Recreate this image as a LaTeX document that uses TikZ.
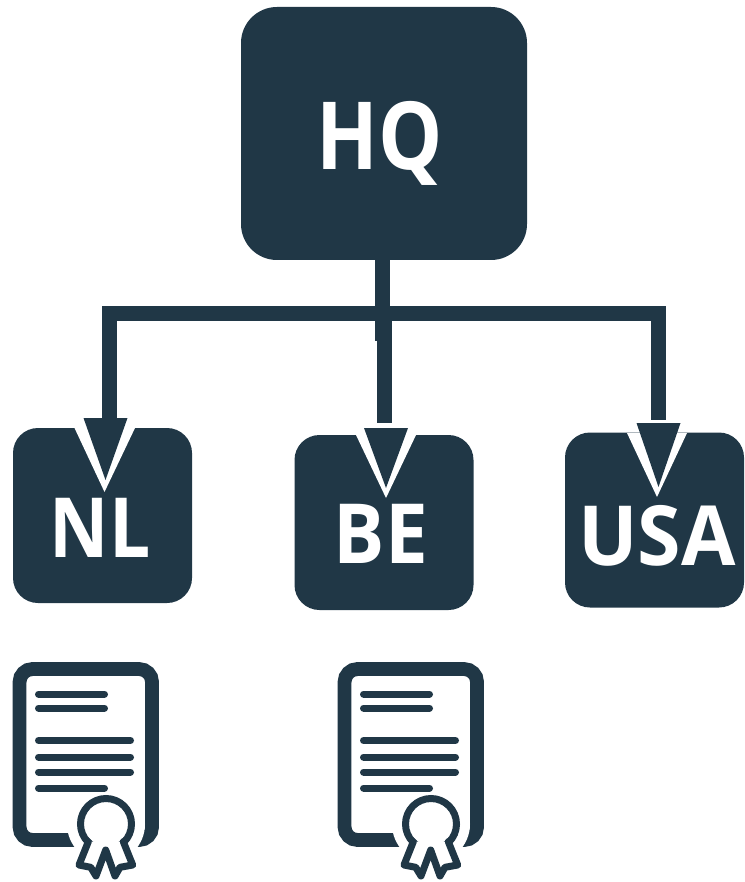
\documentclass[tikz,border=0pt]{standalone}
\usepackage{fontspec}
\setmainfont{Open Sans}
\usetikzlibrary{arrows.meta}
\definecolor{navy}{HTML}{203746}
\tikzset{
  office/.style={draw=none,fill=navy,rounded corners=25pt,inner sep=0pt,minimum width=179pt,minimum height=175pt},
  hqbox/.style={office,rounded corners=36pt,minimum width=286pt,minimum height=253pt},
  lbl/.style={text=white,inner sep=0pt,anchor=base,transform shape,font=\bfseries\fontsize{83}{83}\selectfont},
  shaft/.style={draw=navy,line width=15pt},
  head/.style={draw=navy,line width=0.1pt,-{Triangle[length=#1,width=44pt,line width=0pt,fill=navy]}},
  halo/.style={fill=white,draw=none},
  inkline/.style={draw=navy,line width=7pt,line cap=round},
}
\newcommand{\certificate}[2]{%
  \begin{scope}[shift={(#1,0)}]
    \node[draw=navy,line width=13.8pt,rounded corners=13pt,inner sep=0pt,minimum width=132.5pt,minimum height=171pt] (frame#2) at (85.8,754.5) {};
    \node[circle,fill=white,inner sep=0pt,minimum size=78pt] (gap#2) at (106,824) {};
    \draw[inkline] (38.5,694) -- (104.5,694);
    \draw[inkline] (38.5,708) -- (104.5,708);
    \draw[inkline] (38.5,740.5) -- (130.5,740.5);
    \draw[inkline] (38.5,757) -- (130.5,757);
    \draw[inkline] (38.5,772) -- (130.5,772);
    \draw[inkline] (38.5,788) -- (104.5,788);
    \node[circle,draw=navy,fill=white,line width=7pt,inner sep=0pt,minimum size=51pt] (seal#2) at (106,824) {};
    \draw[navy,line width=7pt,line join=round,line cap=round,fill=white]
      (88.3,841.7) -- (79,865) -- (90.7,867.3) -- (96,876) -- (105.7,850) -- (115,876) -- (120,867.3) -- (132.7,865) -- (123.3,841.7);
  \end{scope}}
\begin{document}
\begin{tikzpicture}[x=1pt,y=-1pt]
\useasboundingbox (0,0) rectangle (744,882);
\node[hqbox] (hq) at (384,133.5) {};
\node[office] (nl) at (102.5,515.5) {};
\node[office] (be) at (384,522.5) {};
\node[office] (usa) at (654.5,520) {};
\node[lbl,xscale=.86,font=\bfseries\fontsize{94}{94}\selectfont] (hqt) at (380,170) {HQ};
\node[lbl,xscale=.88] (nlt) at (100,557) {NL};
\node[lbl,xscale=.92] (bet) at (381,563) {BE};
\node[lbl,xscale=.95] (usat) at (657,565) {USA};
% white halos
\fill[halo] (74.5,428) -- (135,428) -- (104.5,492) -- cycle;
\fill[halo] (356,435) -- (416,435) -- (386,498) -- cycle;
\fill[halo] (627,433) -- (687,433) -- (657,497) -- cycle;
% connectors
\coordinate (j) at (382.5,313.5);
\coordinate (stemend) at (382.5,341);
\coordinate (nlend) at (109,418.5);
\coordinate (nlbase) at (105.5,418);
\coordinate (nltip) at (105.5,480);
\coordinate (beend) at (384.5,423);
\coordinate (bestart) at (384.5,321);
\coordinate (bebase) at (386,428);
\coordinate (betip) at (386,488);
\coordinate (usaend) at (658,420);
\coordinate (usabase) at (658.5,423);
\coordinate (usatip) at (658.5,487);
\draw[shaft] ([xshift=-1.5pt]hq.south) -- (stemend);
\draw[shaft] (j) -| (nlend);
\draw[shaft] (j) -| (usaend);
\draw[shaft] (bestart) -- (beend);
\draw[head=62pt] (nlbase) -- (nltip);
\draw[head=60pt] (bebase) -- (betip);
\draw[head=64pt] (usabase) -- (usatip);
\certificate{0}{a}
\certificate{325}{b}
\end{tikzpicture}
\end{document}
